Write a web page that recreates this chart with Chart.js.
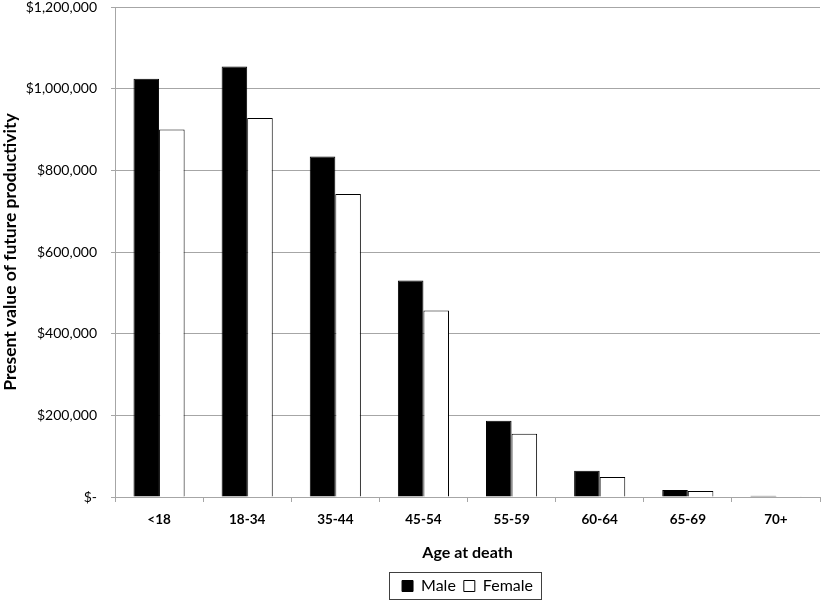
<!DOCTYPE html>
<html>
<head>
<meta charset="utf-8">
<script src="https://cdn.jsdelivr.net/npm/chart.js@4.4.1/dist/chart.umd.min.js"></script>
<style>
  html, body { margin: 0; padding: 0; background: #fff; }
  #wrap { width: 822px; height: 602px; }
</style>
</head>
<body>
<div id="wrap"><canvas id="chart" width="822" height="602"></canvas></div>
<script>
const ageGroups = ['<18', '18-34', '35-44', '45-54', '55-59', '60-64', '65-69', '70+'];
const maleValues = [1024000, 1054000, 834000, 530000, 187000, 64000, 17000, 3000];
const femaleValues = [900000, 928000, 742000, 457000, 155000, 49000, 15000, 2000];
const yTicks = [0, 200000, 400000, 600000, 800000, 1000000, 1200000];

const FONT = "Lato, 'Open Sans', sans-serif";
const GRID = '#a6a6a6';

function money(v) {
    if (v === 0) return '$-';
    return '$' + v.toLocaleString('en-US');
}

// draw the thin frame Excel puts round the legend
const legendFrame = {
    id: 'legendFrame',
    afterDraw(chart) {
        const boxes = chart.legend && chart.legend.legendHitBoxes;
        if (!boxes || !boxes.length) return;
        let left = Infinity, right = -Infinity;
        boxes.forEach(b => {
            left = Math.min(left, b.left);
            right = Math.max(right, b.left + b.width);
        });
        const top = boxes[0].top;
        const h = boxes[0].height;
        const ctx = chart.ctx;
        ctx.save();
        ctx.strokeStyle = '#404040';
        ctx.lineWidth = 1;
        ctx.strokeRect(Math.round(left) - 12.5, Math.round(top) - 5.5, Math.round(right - left) + 21, Math.round(h) + 11);
        ctx.restore();
    }
};

const ctx = document.getElementById('chart').getContext('2d');
new Chart(ctx, {
    type: 'bar',
    data: {
        labels: ageGroups,
        datasets: [
            {
                label: 'Male',
                data: maleValues,
                backgroundColor: '#000000',
                borderColor: '#000000',
                borderWidth: 1
            },
            {
                label: 'Female',
                data: femaleValues,
                backgroundColor: '#ffffff',
                borderColor: '#000000',
                borderWidth: 1
            }
        ]
    },
    options: {
        responsive: false,
        animation: false,
        devicePixelRatio: 1,
        layout: { padding: { top: 7, right: 2, left: 0, bottom: -2 } },
        datasets: {
            bar: { categoryPercentage: 0.58, barPercentage: 1.0 }
        },
        scales: {
            x: {
                grid: {
                    drawOnChartArea: false,
                    drawTicks: true,
                    tickLength: 5,
                    color: GRID
                },
                border: { color: GRID },
                ticks: {
                    color: '#000',
                    padding: 10,
                    font: { family: FONT, size: 13.5, weight: 'bold' }
                },
                title: {
                    display: true,
                    text: 'Age at death',
                    color: '#000',
                    padding: { top: 0, bottom: 8 },
                    font: { family: FONT, size: 16, weight: 'bold' }
                },
                afterFit(scale) {
                    scale.height = 73;
                    scale.paddingLeft = 0;
                    scale.paddingRight = 0;
                }
            },
            y: {
                min: 0,
                max: 1200000,
                afterBuildTicks(scale) {
                    scale.ticks = yTicks.map(v => ({ value: v }));
                },
                grid: {
                    color: GRID,
                    drawTicks: true,
                    tickLength: 4
                },
                border: { color: GRID },
                ticks: {
                    color: '#000',
                    padding: 14,
                    callback: v => money(v),
                    font: { family: FONT, size: 14 }
                },
                title: {
                    display: true,
                    text: 'Present value of future productivity',
                    color: '#000',
                    padding: { top: 0, bottom: 0 },
                    font: { family: FONT, size: 17.5, weight: 'bold' }
                },
                afterFit(scale) {
                    scale.width = 115;
                    scale.paddingTop = 0;
                    scale.paddingBottom = 0;
                }
            }
        },
        plugins: {
            legend: {
                position: 'bottom',
                fullSize: false,
                labels: {
                    color: '#000',
                    boxWidth: 11,
                    boxHeight: 11,
                    padding: 8,
                    font: { family: FONT, size: 16 }
                }
            },
            tooltip: { enabled: false }
        }
    },
    plugins: [legendFrame]
});
</script>
</body>
</html>
